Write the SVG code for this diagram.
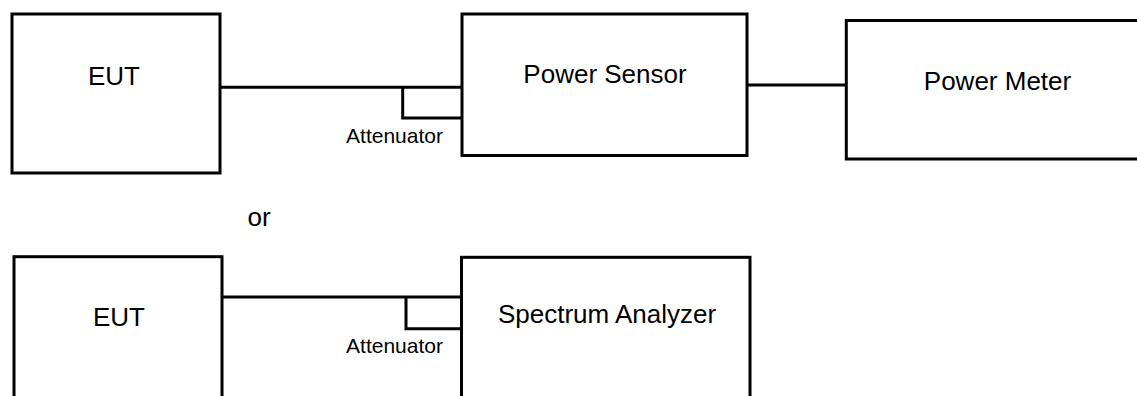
<svg xmlns="http://www.w3.org/2000/svg" width="1137" height="396" viewBox="0 0 1137 396">
<style>
.box{fill:#fff;stroke:#000;stroke-width:3}
.wire{fill:none;stroke:#000;stroke-width:3}
.lbl{font-family:"Liberation Sans",Arial,sans-serif;font-size:26px;fill:#000;text-anchor:middle}
.small{font-family:"Liberation Sans",Arial,sans-serif;font-size:21px;fill:#000;text-anchor:middle}
</style>
<rect width="1137" height="396" fill="#fff"/>
<g id="connectors">
<path class="wire" d="M220 87.3H462"/>
<path class="wire" d="M402.7 87.3V118H462"/>
<path class="wire" d="M747 85H846"/>
<path class="wire" d="M222 297H461.5"/>
<path class="wire" d="M406 297V328.7H461.5"/>
</g>
<g id="eut1"><rect class="box" x="12" y="14" width="208" height="159"/><text class="lbl" x="114" y="85">EUT</text></g>
<g id="sensor"><rect class="box" x="462" y="14" width="285" height="141.5"/><text class="lbl" x="605" y="83">Power Sensor</text></g>
<g id="meter"><rect class="box" x="846.3" y="20.5" width="300" height="138.5"/><text class="lbl" x="997.5" y="90">Power Meter</text></g>
<g id="att1"><text class="small" x="394.5" y="143">Attenuator</text></g>
<g id="or"><text class="lbl" x="259" y="226">or</text></g>
<g id="eut2"><rect class="box" x="14" y="256.7" width="208" height="160"/><text class="lbl" x="119" y="326">EUT</text></g>
<g id="analyzer"><rect class="box" x="461.5" y="257.3" width="288.5" height="160"/><text class="lbl" x="607" y="323">Spectrum Analyzer</text></g>
<g id="att2"><text class="small" x="394.5" y="353">Attenuator</text></g>
</svg>
